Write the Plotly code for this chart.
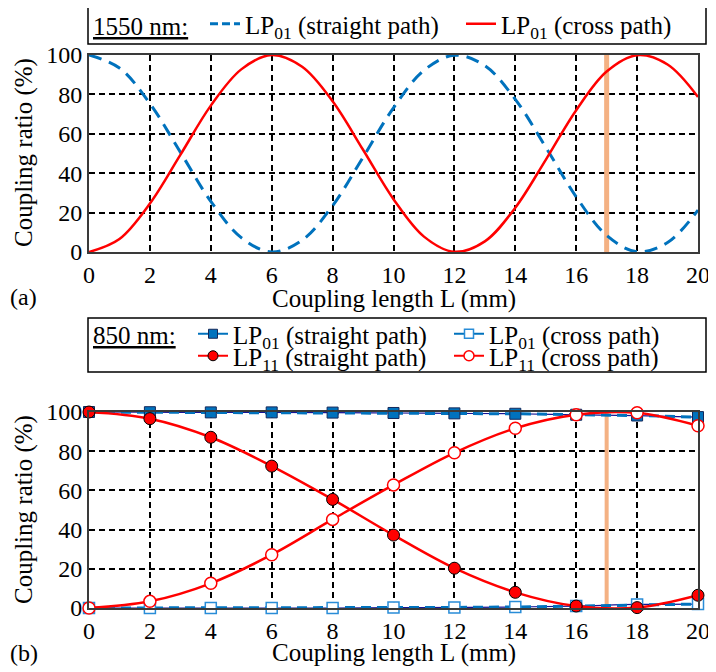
import plotly.graph_objects as go

# ---------------- data ----------------
# (a) 1550 nm, read every 1 mm
L_a = [0, 1, 2, 3, 4, 5, 6, 7, 8, 9, 10, 11, 12, 13, 14, 15, 16, 17, 18, 19, 20]
a_straight = [100, 93.4, 75.4, 50.7, 25.7, 7.3, 0.0, 6.0, 23.5, 48.1, 73.2, 92.2,
              99.9, 94.6, 77.5, 53.2, 28.0, 8.4, 0.1, 4.8, 21.3]
a_cross = [0.0, 6.6, 24.6, 49.3, 74.3, 92.7, 100, 94.0, 76.5, 51.9, 26.8, 7.8,
           0.1, 5.4, 22.5, 46.8, 72.0, 91.6, 99.9, 95.2, 78.7]

# (b) 850 nm, measured every 2 mm
L_b = [0, 2, 4, 6, 8, 10, 12, 14, 16, 18, 20]
b_lp01_straight = [100, 99.9, 99.8, 99.8, 99.7, 99.5, 99.3, 99.1, 98.6, 98.2, 97.4]
b_lp01_cross = [0.0, 0.0, 0.0, 0.0, 0.0, 0.2, 0.3, 0.5, 1.0, 1.8, 2.0]
b_lp11_straight = [100, 96.6, 87.1, 72.4, 55.4, 37.2, 20.3, 8.0, 1.0, 0.2, 6.5]
b_lp11_cross = [0.0, 3.4, 12.6, 27.2, 45.2, 62.8, 79.2, 91.7, 98.6, 99.6, 93.0]

L_marker = 17  # chosen coupling length (orange line)

x_ticks = [0, 2, 4, 6, 8, 10, 12, 14, 16, 18, 20]
y_ticks = [0, 20, 40, 60, 80, 100]

# ---------------- style ----------------
OFF = 8                 # page body margin (left/top)
W, H = 716 - OFF, 672 - OFF
FONT = "Liberation Serif, Times New Roman, serif"
BLUE = "rgb(0,114,189)"
LBLUE = "rgb(40,140,215)"
NAVY = "rgb(20,20,150)"
RED = "rgb(255,0,0)"
ORANGE = "rgb(244,177,131)"
FRAME = "#3a3a3a"
FS_TICK = 24
FS_TITLE = 25
FS_LEG = 25


def px_x(p):
    return (p - OFF) / W


def px_y(p):
    return 1 - (p - OFF) / H


fig = go.Figure()

# ---- (a) ----
fig.add_trace(go.Scatter(x=[L_marker, L_marker], y=[0, 100], mode="lines",
                         line=dict(color=ORANGE, width=5), showlegend=False,
                         xaxis="x", yaxis="y"))
fig.add_trace(go.Scatter(x=L_a, y=a_straight, mode="lines", line_shape="spline",
                         line=dict(color=BLUE, width=3, dash="13px,8px"),
                         showlegend=False, xaxis="x", yaxis="y"))
fig.add_trace(go.Scatter(x=L_a, y=a_cross, mode="lines", line_shape="spline",
                         line=dict(color=RED, width=2.5),
                         showlegend=False, xaxis="x", yaxis="y"))
# legend entries (a)
fig.add_trace(go.Scatter(x=[None], y=[None], mode="lines",
                         line=dict(color=BLUE, width=3, dash="8px,4px"),
                         name="LP<sub>01</sub> (straight path)", legend="legend",
                         xaxis="x", yaxis="y"))
fig.add_trace(go.Scatter(x=[None], y=[None], mode="lines",
                         line=dict(color=RED, width=2.5),
                         name="LP<sub>01</sub> (cross path)", legend="legend",
                         xaxis="x", yaxis="y"))

# ---- (b) ----
fig.add_trace(go.Scatter(x=[L_marker, L_marker], y=[0, 100], mode="lines",
                         line=dict(color=ORANGE, width=4), showlegend=False,
                         xaxis="x2", yaxis="y2"))
for ys in (b_lp01_straight, b_lp01_cross):
    fig.add_trace(go.Scatter(x=L_b, y=ys, mode="lines", line_shape="spline",
                             line=dict(color=NAVY, width=1.2),
                             showlegend=False, xaxis="x2", yaxis="y2",
                             cliponaxis=False))
fig.add_trace(go.Scatter(x=L_b, y=b_lp01_straight, mode="lines+markers",
                         line=dict(color=BLUE, width=3, dash="10px,6px"),
                         marker=dict(symbol="square", size=11, color=BLUE,
                                     line=dict(color="rgb(20,40,90)", width=1)),
                         showlegend=False, xaxis="x2", yaxis="y2", cliponaxis=False))
fig.add_trace(go.Scatter(x=L_b, y=b_lp01_cross, mode="lines+markers",
                         line=dict(color=BLUE, width=3, dash="10px,6px"),
                         marker=dict(symbol="square", size=11, color="white",
                                     line=dict(color=LBLUE, width=1.5)),
                         showlegend=False, xaxis="x2", yaxis="y2", cliponaxis=False))
fig.add_trace(go.Scatter(x=L_b, y=b_lp11_straight, mode="lines+markers",
                         line_shape="spline", line=dict(color=RED, width=2.5),
                         marker=dict(symbol="circle", size=12, color=RED,
                                     line=dict(color="black", width=1)),
                         showlegend=False, xaxis="x2", yaxis="y2", cliponaxis=False))
fig.add_trace(go.Scatter(x=L_b, y=b_lp11_cross, mode="lines+markers",
                         line_shape="spline", line=dict(color=RED, width=2.5),
                         marker=dict(symbol="circle", size=12, color="white",
                                     line=dict(color=RED, width=1.5)),
                         showlegend=False, xaxis="x2", yaxis="y2", cliponaxis=False))
# legend entries (b)
fig.add_trace(go.Scatter(x=[None], y=[None], mode="lines+markers",
                         line=dict(color=BLUE, width=2),
                         marker=dict(symbol="square", size=9, color=BLUE,
                                     line=dict(color="rgb(20,40,90)", width=1)),
                         name="LP<sub>01</sub> (straight path)", legend="legend2",
                         xaxis="x2", yaxis="y2"))
fig.add_trace(go.Scatter(x=[None], y=[None], mode="lines+markers",
                         line=dict(color=BLUE, width=2),
                         marker=dict(symbol="square", size=9, color="white",
                                     line=dict(color=LBLUE, width=1.5)),
                         name="LP<sub>01</sub> (cross path)", legend="legend2",
                         xaxis="x2", yaxis="y2"))
fig.add_trace(go.Scatter(x=[None], y=[None], mode="lines+markers",
                         line=dict(color=RED, width=2),
                         marker=dict(symbol="circle", size=10, color=RED,
                                     line=dict(color="black", width=1)),
                         name="LP<sub>11</sub> (straight path)", legend="legend3",
                         xaxis="x2", yaxis="y2"))
fig.add_trace(go.Scatter(x=[None], y=[None], mode="lines+markers",
                         line=dict(color=RED, width=2),
                         marker=dict(symbol="circle", size=10, color="white",
                                     line=dict(color=RED, width=1.5)),
                         name="LP<sub>11</sub> (cross path)", legend="legend3",
                         xaxis="x2", yaxis="y2"))

# ---------------- axes ----------------
tickfont = dict(family=FONT, size=FS_TICK, color="black")
xcommon = dict(range=[0, 20], tickvals=x_ticks, showgrid=True, gridcolor="black",
               griddash="6px,4px", gridwidth=1.5, showline=True, linecolor=FRAME,
               linewidth=2, mirror=True, zeroline=False, ticks="", tickfont=tickfont,
               ticklabeloverflow="allow")
ycommon = dict(range=[0, 100], tickvals=y_ticks, showgrid=True, gridcolor="black",
               griddash="6px,4px", gridwidth=1.5, showline=True, linecolor=FRAME,
               linewidth=2, mirror=True, zeroline=False, ticks="", tickfont=tickfont,
               ticklabeloverflow="allow")

xdom = [px_x(89), px_x(698)]
fig.update_layout(
    xaxis=dict(domain=xdom, anchor="y", **xcommon),
    yaxis=dict(domain=[px_y(252), px_y(55)], anchor="x", **ycommon),
    xaxis2=dict(domain=xdom, anchor="y2", **xcommon),
    yaxis2=dict(domain=[px_y(608), px_y(412)], anchor="x2", **ycommon),
)

legfont = dict(family=FONT, size=FS_LEG, color="black")
titlefont = dict(family=FONT, size=FS_TITLE, color="black")
legcommon = dict(orientation="h", xanchor="left", yanchor="middle", font=legfont,
                 bgcolor="rgba(0,0,0,0)", entrywidth=211, itemwidth=30,
                 itemclick=False)
fig.update_layout(
    width=W, height=H, margin=dict(l=0, r=0, t=0, b=0, autoexpand=False),
    paper_bgcolor="white", plot_bgcolor="white",
    font=dict(family=FONT, size=FS_LEG, color="black"),
    legend=dict(x=px_x(205), y=px_y(24), **legcommon),
    legend2=dict(x=px_x(193), y=px_y(334), **legcommon),
    legend3=dict(x=px_x(193), y=px_y(356), **legcommon),
    shapes=[
        dict(type="rect", xref="paper", yref="paper", x0=px_x(88), x1=px_x(706),
             y0=px_y(44), y1=px_y(7), line=dict(color="black", width=1.5)),
        dict(type="rect", xref="paper", yref="paper", x0=px_x(88), x1=px_x(706),
             y0=px_y(372), y1=px_y(318), line=dict(color="black", width=1.5)),
    ],
    annotations=[
        dict(text="<u>1550 nm:</u>", x=px_x(91), y=px_y(26), xref="paper", yref="paper",
             xanchor="left", yanchor="middle", showarrow=False, font=legfont),
        dict(text="<u>850 nm:</u>", x=px_x(91), y=px_y(336), xref="paper", yref="paper",
             xanchor="left", yanchor="middle", showarrow=False, font=legfont),
        dict(text="Coupling ratio (%)", x=px_x(24), y=px_y(153), xref="paper", yref="paper",
             textangle=-90, xanchor="center", yanchor="middle", showarrow=False, font=titlefont),
        dict(text="Coupling ratio (%)", x=px_x(24), y=px_y(510), xref="paper", yref="paper",
             textangle=-90, xanchor="center", yanchor="middle", showarrow=False, font=titlefont),
        dict(text="Coupling length L (mm)", x=px_x(394), y=px_y(299), xref="paper", yref="paper",
             xanchor="center", yanchor="middle", showarrow=False, font=titlefont),
        dict(text="Coupling length L (mm)", x=px_x(394), y=px_y(653), xref="paper", yref="paper",
             xanchor="center", yanchor="middle", showarrow=False, font=titlefont),
        dict(text="(a)", x=px_x(8), y=px_y(297), xref="paper", yref="paper",
             xanchor="left", yanchor="middle", showarrow=False, font=dict(family=FONT, size=24)),
        dict(text="(b)", x=px_x(8), y=px_y(653), xref="paper", yref="paper",
             xanchor="left", yanchor="middle", showarrow=False, font=dict(family=FONT, size=24)),
    ],
)

fig.write_html("out.html")
